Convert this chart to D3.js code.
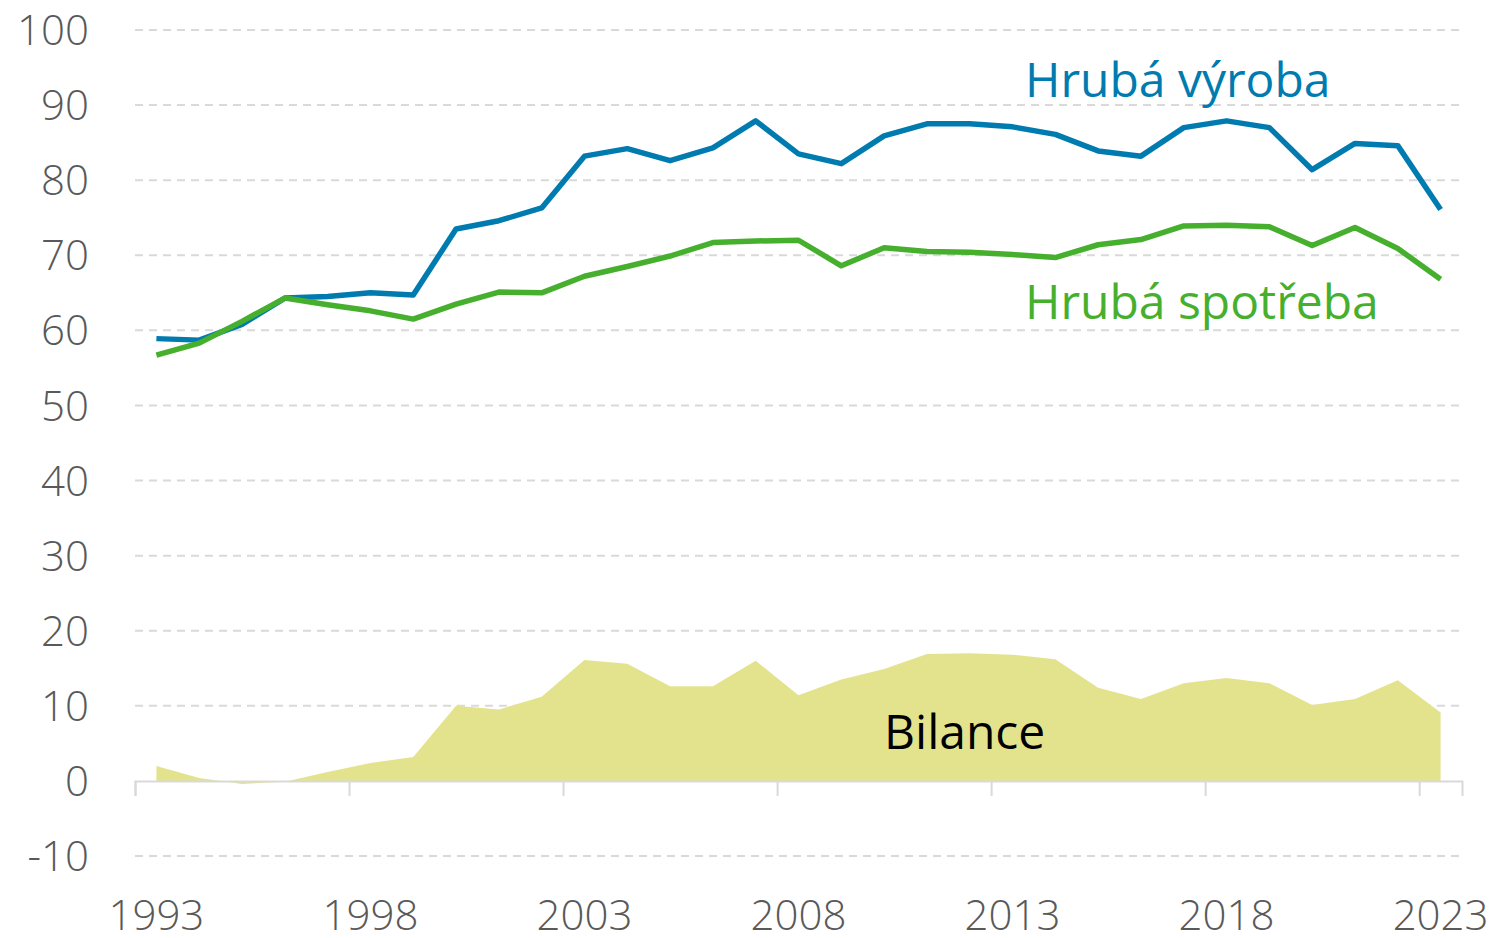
<!DOCTYPE html>
<html>
<head>
<meta charset="utf-8">
<script src="https://cdn.jsdelivr.net/npm/d3@7"></script>
<style>
  body { margin: 0; background: #fff; }
  text { font-family: "Open Sans", sans-serif; }
</style>
</head>
<body>
<div id="graf"></div>
<script>
// roky
const roky = d3.range(1993, 2024);

// Hrubá výroba
const vyroba = [58.9, 58.7, 60.8, 64.3, 64.5, 65.0, 64.7, 73.5, 74.6, 76.3,
  83.2, 84.2, 82.6, 84.3, 87.9, 83.5, 82.2, 85.9, 87.5, 87.5,
  87.1, 86.1, 83.9, 83.2, 87.0, 87.9, 87.0, 81.4, 84.9, 84.6, 76.1];

// Hrubá spotřeba
const spotreba = [56.7, 58.3, 61.2, 64.3, 63.4, 62.6, 61.5, 63.5, 65.1, 65.0,
  67.2, 68.5, 69.9, 71.7, 71.9, 72.0, 68.6, 71.0, 70.5, 70.4,
  70.1, 69.7, 71.4, 72.1, 73.9, 74.0, 73.8, 71.3, 73.7, 70.9, 66.8];

// Bilance
const bilance = [2.0, 0.4, -0.4, -0.1, 1.2, 2.4, 3.2, 10.0, 9.5, 11.2,
  16.1, 15.6, 12.6, 12.6, 16.0, 11.4, 13.5, 14.9, 16.9, 17.0,
  16.8, 16.2, 12.4, 10.9, 13.0, 13.7, 13.0, 10.1, 10.9, 13.4, 9.1];

const yTicks = [-10, 0, 10, 20, 30, 40, 50, 60, 70, 80, 90, 100];
const xLabels = [1993, 1998, 2003, 2008, 2013, 2018, 2023];

const W = 1495, H = 938;
const margin = { top: 30, right: 33, bottom: 82, left: 135 };

const svg = d3.select("#graf").append("svg")
  .attr("width", W).attr("height", H);

const x = d3.scaleLinear()
  .domain([1992.5, 2023.5])
  .range([margin.left, W - margin.right]);

const y = d3.scaleLinear()
  .domain([-10, 100])
  .range([H - margin.bottom, margin.top]);

// mřížka
svg.append("g")
  .selectAll("line")
  .data(yTicks.filter(d => d !== 0))
  .join("line")
  .attr("x1", margin.left).attr("x2", W - margin.right - 2)
  .attr("y1", d => y(d)).attr("y2", d => y(d))
  .attr("stroke", "#d9d9d9")
  .attr("stroke-width", 2)
  .attr("stroke-dasharray", "8,6");

// popisky osy y
svg.append("g")
  .selectAll("text")
  .data(yTicks)
  .join("text")
  .attr("x", 89)
  .attr("y", d => y(d))
  .attr("dy", "0.36em")
  .attr("text-anchor", "end")
  .attr("font-size", 42)
  .attr("font-weight", 300)
  .attr("fill", "#595959")
  .text(d => d);

// bilance - plocha
const area = d3.area()
  .x((d, i) => x(roky[i]))
  .y0(y(0))
  .y1(d => y(d));

svg.append("path")
  .datum(bilance)
  .attr("d", area)
  .attr("fill", "#e3e38e");

// osa x
const osa = svg.append("g")
  .attr("transform", "translate(0," + y(0) + ")")
  .call(d3.axisBottom(x)
    .tickValues(d3.range(1992.5, 2024, 5))
    .tickSize(15)
    .tickFormat(""));
osa.select(".domain").attr("stroke", "#d9d9d9").attr("stroke-width", 2);
osa.selectAll(".tick line").attr("stroke", "#d9d9d9").attr("stroke-width", 2);

svg.append("g")
  .selectAll("text")
  .data(xLabels)
  .join("text")
  .attr("x", d => x(d))
  .attr("y", 930)
  .attr("text-anchor", "middle")
  .attr("font-size", 42)
  .attr("font-weight", 300)
  .attr("fill", "#595959")
  .text(d => d);

// čáry
const line = d3.line()
  .x((d, i) => x(roky[i]))
  .y(d => y(d));

svg.append("path")
  .datum(vyroba)
  .attr("d", line)
  .attr("fill", "none")
  .attr("stroke", "#007bb0")
  .attr("stroke-width", 5.5)
  .attr("stroke-linejoin", "round");

svg.append("path")
  .datum(spotreba)
  .attr("d", line)
  .attr("fill", "none")
  .attr("stroke", "#46b02e")
  .attr("stroke-width", 5.5)
  .attr("stroke-linejoin", "round");

// popisky řad
svg.append("text")
  .attr("x", 1025).attr("y", 97)
  .attr("font-size", 48)
  .attr("fill", "#007bb0")
  .text("Hrubá výroba");

svg.append("text")
  .attr("x", 1025).attr("y", 319)
  .attr("font-size", 48)
  .attr("fill", "#46b02e")
  .text("Hrubá spotřeba");

svg.append("text")
  .attr("x", 884).attr("y", 749)
  .attr("font-size", 48)
  .attr("fill", "#000")
  .text("Bilance");
</script>
</body>
</html>
